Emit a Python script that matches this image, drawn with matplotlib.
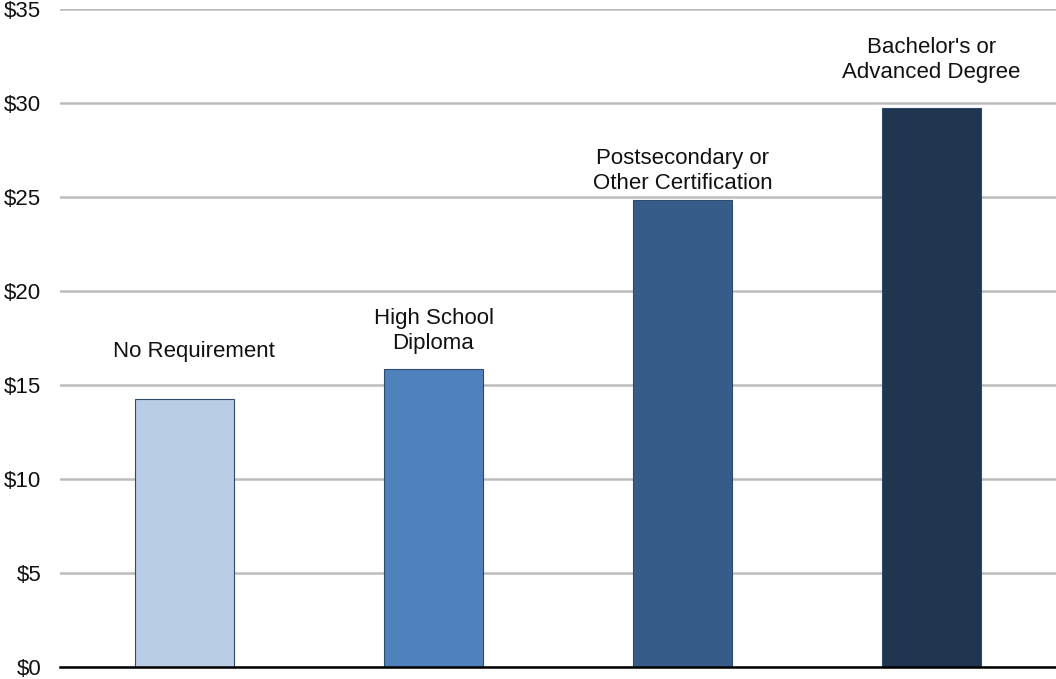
import matplotlib
matplotlib.use('Agg')
import matplotlib.pyplot as plt
import numpy as np

# data
categories = ['No Requirement', 'High School\nDiploma',
              'Postsecondary or\nOther Certification', "Bachelor's or\nAdvanced Degree"]
wages = [14.25, 15.85, 24.85, 29.75]
y_ticks = [0, 5, 10, 15, 20, 25, 30, 35]
y_tick_labels = ['$0', '$5', '$10', '$15', '$20', '$25', '$30', '$35']

bar_colors = ['#b9cde5', '#4f81bd', '#365c89', '#1f3550']
# label offsets from bar top, in points (x, y)
label_offsets = [(6.5, 27), (0, 11), (0, 4), (0, 18)]

plt.rcParams['font.family'] = ['Liberation Sans', 'DejaVu Sans']

fig = plt.figure(figsize=(10.56, 6.79), dpi=100)
ax = fig.add_axes([60 / 1056, 12 / 679, 996 / 1056, 658 / 679])

x = np.arange(len(categories))
ax.bar(x, wages, width=0.4, color=bar_colors, edgecolor='#2e4a6e',
       linewidth=0.8, zorder=3)

for xi, val, lab, off in zip(x, wages, categories, label_offsets):
    ax.annotate(lab, (xi, val), xytext=off, textcoords='offset points',
                ha='center', va='bottom', fontsize=16, linespacing=1.25,
                color='#111111')

ax.set_xlim(-0.5, len(categories) - 0.5)
ax.set_ylim(0, 35)
ax.set_yticks(y_ticks)
ax.set_yticklabels(y_tick_labels, fontsize=16, color='#111111')
ax.set_xticks([])
ax.tick_params(axis='y', length=0, pad=13.5)

ax.grid(axis='y', color='#bdbdbd', linewidth=1.8, zorder=0)
ax.set_axisbelow(True)
for side in ['top', 'right', 'left']:
    ax.spines[side].set_visible(False)
ax.spines['bottom'].set_color('black')
ax.spines['bottom'].set_linewidth(1.8)
ax.spines['bottom'].set_zorder(4)

fig.savefig('out.png', dpi=100)
